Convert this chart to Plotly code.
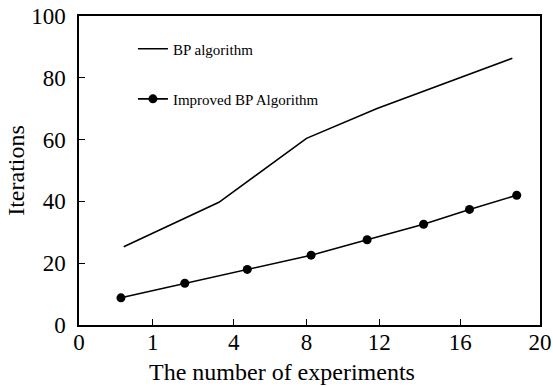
import plotly.graph_objects as go

# Data
bp_x = [1.94, 6.07, 9.87, 12.93, 18.80]
bp_y = [25.3, 39.7, 60.4, 70.1, 86.3]

imp_x = [1.82, 4.59, 7.30, 10.07, 12.50, 14.95, 16.94, 18.99]
imp_y = [8.8, 13.5, 18.0, 22.6, 27.6, 32.6, 37.4, 42.0]

x_tick_positions = [0, 3.2, 6.71, 9.87, 13.03, 16.54, 20]
x_tick_labels = ["0", "1", "4", "8", "12", "16", "20"]
y_tick_values = [0, 20, 40, 60, 80, 100]

x_title = "The number of experiments"
y_title = "Iterations"

FONT = "Liberation Serif"

fig = go.Figure()
fig.add_trace(go.Scatter(
    x=bp_x, y=bp_y, mode="lines", name="BP algorithm", showlegend=True,
    line=dict(color="black", width=1.6), legend="legend"))
fig.add_trace(go.Scatter(
    x=imp_x, y=imp_y, mode="lines+markers", name="Improved BP Algorithm", showlegend=True,
    line=dict(color="black", width=1.6),
    marker=dict(color="black", size=9), legend="legend2"))

axis_common = dict(
    showline=True, linecolor="black", linewidth=1.5, mirror=True,
    ticks="inside", ticklen=6, tickwidth=1.2, tickcolor="black",
    showgrid=False, zeroline=False, automargin=False,
    tickfont=dict(family=FONT, size=23, color="black"),
)

fig.update_layout(
    width=553, height=387,
    margin=dict(l=79, r=13, t=16, b=62),
    paper_bgcolor="white", plot_bgcolor="white",
    showlegend=True,
    font=dict(family=FONT, color="black"),
    xaxis=dict(range=[0, 20], tickvals=x_tick_positions, ticktext=x_tick_labels,
               ticklabelstandoff=-4, **axis_common),
    yaxis=dict(range=[0, 100], tickvals=y_tick_values, ticklabelstandoff=7,
               title=dict(text=y_title, font=dict(family=FONT, size=24), standoff=0),
               **axis_common),
    legend=dict(x=0.117, y=0.893, xanchor="left", yanchor="middle", visible=True,
                bgcolor="rgba(0,0,0,0)", font=dict(family=FONT, size=15)),
    legend2=dict(x=0.117, y=0.731, xanchor="left", yanchor="middle", visible=True,
                 bgcolor="rgba(0,0,0,0)", font=dict(family=FONT, size=15)),
    annotations=[dict(text=x_title, xref="paper", yref="paper", x=0.44, y=-0.153,
                      xanchor="center", yanchor="middle", showarrow=False,
                      font=dict(family=FONT, size=24, color="black"))],
)

fig.write_html("out.html", config={"displayModeBar": False},
               post_script="document.body.style.margin='0px';")
